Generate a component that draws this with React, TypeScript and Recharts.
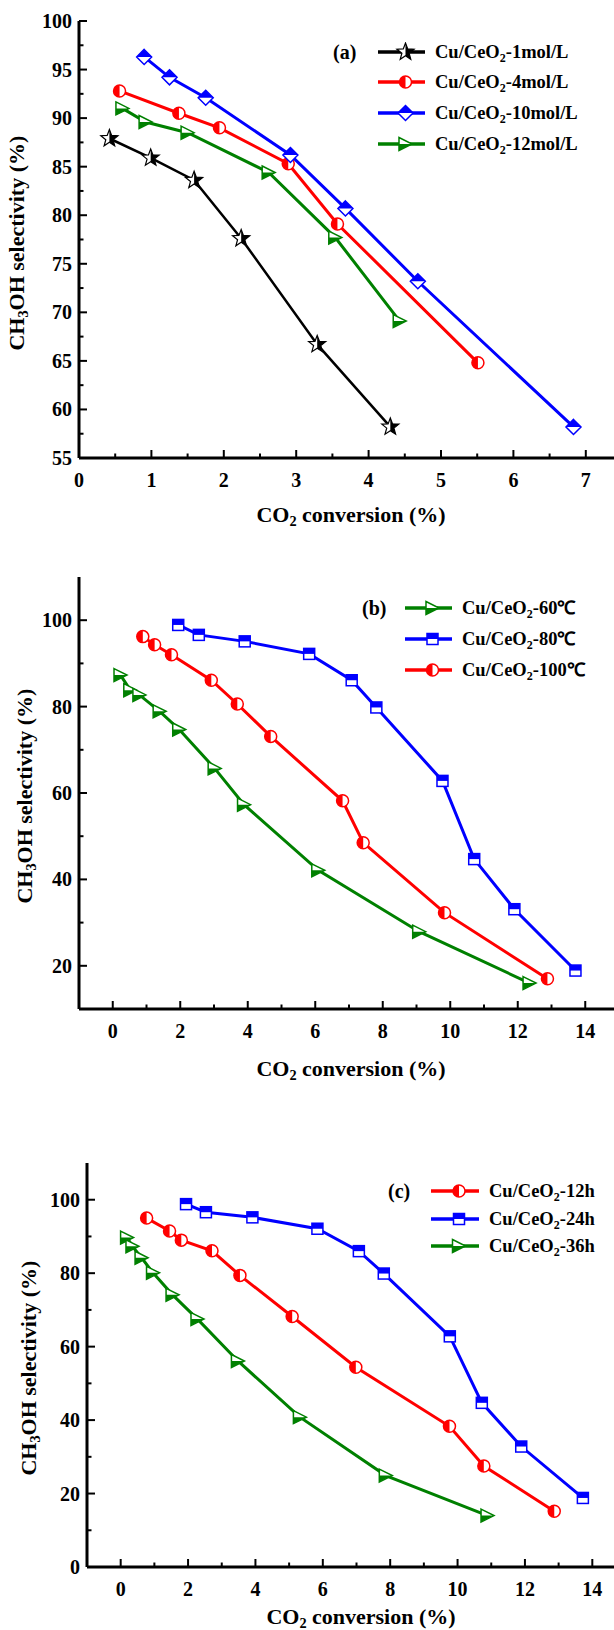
import React from "react";
import { LineChart, Line, XAxis, YAxis } from "recharts";

const FONT = '"Liberation Serif", "Times New Roman", serif';

type Shape = "star" | "circle" | "diamond" | "square" | "triangle";

// (a) precipitant concentration
const convA1 = [0.42, 0.99, 1.59, 2.24, 3.29, 4.3];
const selA1 = [87.9, 85.9, 83.6, 77.6, 66.7, 58.2];
const convA4 = [0.56, 1.38, 1.94, 2.89, 3.57, 5.51];
const selA4 = [92.8, 90.5, 89.0, 85.3, 79.1, 64.8];
const convA10 = [0.9, 1.25, 1.75, 2.92, 3.68, 4.68, 6.83];
const selA10 = [96.3, 94.2, 92.1, 86.2, 80.7, 73.2, 58.2];
const convA12 = [0.6, 0.92, 1.5, 2.62, 3.54, 4.43];
const selA12 = [91.0, 89.6, 88.5, 84.4, 77.7, 69.1];

// (b) temperature
const convB60 = [0.23, 0.52, 0.79, 1.39, 1.97, 3.02, 3.89, 6.09, 9.08, 12.35];
const selB60 = [87.3, 83.8, 82.7, 78.9, 74.7, 65.7, 57.3, 42.1, 27.9, 16.0];
const convB80 = [1.94, 2.55, 3.91, 5.82, 7.08, 7.81, 9.77, 10.71, 11.9, 13.71];
const selB80 = [98.9, 96.6, 95.1, 92.2, 86.1, 79.8, 62.8, 44.7, 33.1, 18.9];
const convB100 = [0.89, 1.24, 1.74, 2.92, 3.69, 4.68, 6.81, 7.42, 9.83, 12.88];
const selB100 = [96.2, 94.3, 92.0, 86.1, 80.6, 73.1, 58.2, 48.5, 32.3, 17.0];

// (c) aging time
const convC12 = [0.77, 1.45, 1.8, 2.71, 3.54, 5.09, 6.98, 9.76, 10.78, 12.87];
const selC12 = [95.0, 91.5, 89.0, 86.1, 79.4, 68.2, 54.4, 38.3, 27.5, 15.2];
const convC24 = [1.94, 2.53, 3.91, 5.84, 7.07, 7.81, 9.77, 10.72, 11.89, 13.72];
const selC24 = [98.8, 96.6, 95.2, 92.1, 86.0, 79.9, 62.8, 44.7, 32.8, 18.8];
const convC36 = [0.19, 0.35, 0.62, 0.96, 1.54, 2.28, 3.48, 5.32, 7.87, 10.89];
const selC36 = [89.7, 87.3, 84.2, 80.1, 74.1, 67.5, 56.1, 40.8, 24.9, 14.0];

// tick positions (all) and the ones that carry a label
const xTicksA = [0, 0.5, 1, 1.5, 2, 2.5, 3, 3.5, 4, 4.5, 5, 5.5, 6, 6.5, 7];
const xLabelsA = [0, 1, 2, 3, 4, 5, 6, 7];
const yTicksA = [55, 57.5, 60, 62.5, 65, 67.5, 70, 72.5, 75, 77.5, 80, 82.5, 85, 87.5, 90, 92.5, 95, 97.5, 100];
const yLabelsA = [55, 60, 65, 70, 75, 80, 85, 90, 95, 100];
const xTicksBC = [0, 1, 2, 3, 4, 5, 6, 7, 8, 9, 10, 11, 12, 13, 14];
const xLabelsBC = [0, 2, 4, 6, 8, 10, 12, 14];
const yTicksB = [10, 20, 30, 40, 50, 60, 70, 80, 90, 100];
const yLabelsB = [20, 40, 60, 80, 100];
const yTicksC = [0, 10, 20, 30, 40, 50, 60, 70, 80, 90, 100];
const yLabelsC = [0, 20, 40, 60, 80, 100];

interface Series {
  suffix: string;
  color: string;
  shape: Shape;
  conv: number[];
  sel: number[];
}

const seriesA: Series[] = [
  { suffix: "-1mol/L", color: "#000000", shape: "star", conv: convA1, sel: selA1 },
  { suffix: "-4mol/L", color: "#ff0000", shape: "circle", conv: convA4, sel: selA4 },
  { suffix: "-10mol/L", color: "#0000ff", shape: "diamond", conv: convA10, sel: selA10 },
  { suffix: "-12mol/L", color: "#008000", shape: "triangle", conv: convA12, sel: selA12 },
];
const seriesB: Series[] = [
  { suffix: "-60℃", color: "#008000", shape: "triangle", conv: convB60, sel: selB60 },
  { suffix: "-80℃", color: "#0000ff", shape: "square", conv: convB80, sel: selB80 },
  { suffix: "-100℃", color: "#ff0000", shape: "circle", conv: convB100, sel: selB100 },
];
const seriesC: Series[] = [
  { suffix: "-12h", color: "#ff0000", shape: "circle", conv: convC12, sel: selC12 },
  { suffix: "-24h", color: "#0000ff", shape: "square", conv: convC24, sel: selC24 },
  { suffix: "-36h", color: "#008000", shape: "triangle", conv: convC36, sel: selC36 },
];

// half-filled scatter symbols
function Marker({ shape, cx, cy, color }: { shape: Shape; cx: number; cy: number; color: string }) {
  const sw = 1.5;
  if (shape === "circle") {
    const r = 6;
    return (
      <g>
        <circle cx={cx} cy={cy} r={r} fill="#fff" stroke={color} strokeWidth={sw} />
        <path d={`M${cx},${cy - r}A${r},${r} 0 0 0 ${cx},${cy + r}Z`} fill={color} />
      </g>
    );
  }
  if (shape === "square") {
    const h = 5.5;
    return (
      <g>
        <rect x={cx - h} y={cy - h} width={2 * h} height={2 * h} fill="#fff" stroke={color} strokeWidth={sw} />
        <rect x={cx - h} y={cy - h} width={2 * h} height={h} fill={color} />
      </g>
    );
  }
  if (shape === "diamond") {
    const h = 7.5;
    return (
      <g>
        <polygon points={`${cx},${cy - h} ${cx + h},${cy} ${cx},${cy + h} ${cx - h},${cy}`} fill="#fff" stroke={color} strokeWidth={sw} />
        <polygon points={`${cx - h},${cy} ${cx},${cy - h} ${cx + h},${cy}`} fill={color} />
      </g>
    );
  }
  if (shape === "triangle") {
    const h = 6.5;
    return (
      <g>
        <polygon points={`${cx - h},${cy - h} ${cx + h},${cy} ${cx - h},${cy + h}`} fill="#fff" stroke={color} strokeWidth={sw} />
        <polygon points={`${cx - h},${cy} ${cx + h},${cy} ${cx - h},${cy + h}`} fill={color} />
      </g>
    );
  }
  // five-point star, right half filled
  const R = 9;
  const ri = 3.8;
  const pts: string[] = [];
  for (let k = 0; k < 10; k++) {
    const a = (k * Math.PI) / 5;
    const r = k % 2 === 0 ? R : ri;
    pts.push(`${cx + r * Math.sin(a)},${cy - r * Math.cos(a)}`);
  }
  return (
    <g>
      <polygon points={pts.join(" ")} fill="#fff" stroke={color} strokeWidth={1.2} />
      <polygon points={pts.slice(0, 6).join(" ")} fill={color} />
    </g>
  );
}

const subStyle = { fontSize: "0.65em", verticalAlign: "-0.3em" };

const CO2 = () => (
  <>
    CO<sub style={subStyle}>2</sub> conversion (%)
  </>
);

const CH3OH = () => (
  <>
    CH<sub style={subStyle}>3</sub>OH selectivity (%)
  </>
);

interface PanelProps {
  tag: string;
  series: Series[];
  plotTop: number;
  plotBottom: number;
  plotLeft: number;
  plotWidth: number;
  xDomain: [number, number];
  yDomain: [number, number];
  xTicks: number[];
  xLabels: number[];
  yTicks: number[];
  yLabels: number[];
  yTitleX: number;
  xTitleX: number;
  xTitleGap: number;
  legendTagX: number;
  legendLineX: number;
  legendTextX: number;
  legendRows: number[];
}

function Panel(p: PanelProps) {
  const marginTop = 20;
  const axisH = 70;
  const height = p.plotBottom - p.plotTop + marginTop + axisH;
  const width = p.plotLeft + p.plotWidth + 10;

  const xTick = (t: any) => {
    const v = t.payload.value;
    const major = p.xLabels.includes(v);
    return (
      <g>
        <line x1={t.x} x2={t.x} y1={t.y} y2={t.y - (major ? 8 : 4.5)} stroke="#000" strokeWidth={2} />
        {major && (
          <text x={t.x} y={t.y + 29} textAnchor="middle" fontFamily={FONT} fontWeight="bold" fontSize={20} fill="#000">
            {v}
          </text>
        )}
      </g>
    );
  };

  const yTick = (t: any) => {
    const v = t.payload.value;
    const major = p.yLabels.includes(v);
    return (
      <g>
        <line x1={t.x} x2={t.x + (major ? 8 : 4.5)} y1={t.y} y2={t.y} stroke="#000" strokeWidth={2} />
        {major && (
          <text x={t.x - 7} y={t.y + 7} textAnchor="end" fontFamily={FONT} fontWeight="bold" fontSize={20} fill="#000">
            {v}
          </text>
        )}
      </g>
    );
  };

  const axisLine = { stroke: "#000", strokeWidth: 3 };
  const midY = (p.plotTop + p.plotBottom) / 2;
  const legendLineW = p.legendTextX - p.legendLineX - 10;

  return (
    <>
      <div style={{ position: "absolute", left: 0, top: p.plotTop - marginTop }}>
        <LineChart width={width} height={height} margin={{ top: marginTop, right: 10, bottom: 0, left: 0 }}>
          <XAxis
            xAxisId="b"
            type="number"
            dataKey="x"
            domain={p.xDomain}
            ticks={p.xTicks}
            interval={0}
            allowDataOverflow
            height={axisH}
            axisLine={axisLine}
            tickLine={false}
            tickSize={0}
            tickMargin={0}
            tick={xTick}
          />
          <XAxis xAxisId="t" orientation="top" type="number" dataKey="x" domain={p.xDomain} height={0} tick={false} tickLine={false} axisLine={axisLine} />
          <YAxis
            yAxisId="l"
            type="number"
            domain={p.yDomain}
            ticks={p.yTicks}
            interval={0}
            allowDataOverflow
            width={p.plotLeft}
            axisLine={axisLine}
            tickLine={false}
            tickSize={0}
            tickMargin={0}
            tick={yTick}
          />
          <YAxis yAxisId="r" orientation="right" type="number" domain={p.yDomain} width={0} tick={false} tickLine={false} axisLine={axisLine} />
          {p.series.map((s) => (
            <Line
              key={s.suffix}
              xAxisId="b"
              yAxisId="l"
              data={s.conv.map((c, i) => ({ x: c, y: s.sel[i] }))}
              dataKey="y"
              type="linear"
              stroke={s.color}
              strokeWidth={s.shape === "star" ? 2.5 : 3}
              isAnimationActive={false}
              dot={(d: any) => <Marker key={d.index} shape={s.shape} cx={d.cx} cy={d.cy} color={s.color} />}
              activeDot={false}
            />
          ))}
        </LineChart>
      </div>

      {/* axis titles */}
      <div
        style={{
          position: "absolute",
          left: p.xTitleX - 150,
          top: p.plotBottom + p.xTitleGap - 13,
          width: 300,
          textAlign: "center",
          fontFamily: FONT,
          fontWeight: "bold",
          fontSize: 22,
          lineHeight: "26px",
          whiteSpace: "nowrap",
        }}
      >
        <CO2 />
      </div>
      <div
        style={{
          position: "absolute",
          left: p.yTitleX - 160,
          top: midY - 13,
          width: 320,
          textAlign: "center",
          fontFamily: FONT,
          fontWeight: "bold",
          fontSize: 22,
          lineHeight: "26px",
          whiteSpace: "nowrap",
          transform: "rotate(-90deg)",
        }}
      >
        <CH3OH />
      </div>

      {/* legend */}
      <div
        style={{
          position: "absolute",
          left: p.legendTagX,
          top: p.legendRows[0] - 12,
          fontFamily: FONT,
          fontWeight: "bold",
          fontSize: 20,
          lineHeight: "24px",
        }}
      >
        {p.tag}
      </div>
      {p.series.map((s, i) => (
        <React.Fragment key={s.suffix}>
          <svg style={{ position: "absolute", left: p.legendLineX, top: p.legendRows[i] - 10 }} width={legendLineW} height={20}>
            <line x1={0} x2={legendLineW} y1={10} y2={10} stroke={s.color} strokeWidth={3.5} />
            <Marker shape={s.shape} cx={legendLineW / 2 + 4} cy={10} color={s.color} />
          </svg>
          <div
            style={{
              position: "absolute",
              left: p.legendTextX,
              top: p.legendRows[i] - 12,
              fontFamily: FONT,
              fontWeight: "bold",
              fontSize: 18.5,
              lineHeight: "24px",
              whiteSpace: "nowrap",
            }}
          >
            Cu/CeO<sub style={subStyle}>2</sub>
            {s.suffix}
          </div>
        </React.Fragment>
      ))}
    </>
  );
}

export default function App() {
  return (
    <div style={{ position: "absolute", left: 0, top: 0, width: 614, height: 1630, overflow: "hidden", background: "#fff" }}>
      <Panel
        tag="(a)"
        series={seriesA}
        plotTop={21}
        plotBottom={458}
        plotLeft={79}
        plotWidth={543}
        xDomain={[0, 7.5]}
        yDomain={[55, 100]}
        xTicks={xTicksA}
        xLabels={xLabelsA}
        yTicks={yTicksA}
        yLabels={yLabelsA}
        yTitleX={20}
        xTitleX={351}
        xTitleGap={57}
        legendTagX={333}
        legendLineX={378}
        legendTextX={435}
        legendRows={[52, 82, 113, 144]}
      />
      <Panel
        tag="(b)"
        series={seriesB}
        plotTop={577}
        plotBottom={1009}
        plotLeft={79}
        plotWidth={540}
        xDomain={[-1, 15]}
        yDomain={[10, 110]}
        xTicks={xTicksBC}
        xLabels={xLabelsBC}
        yTicks={yTicksB}
        yLabels={yLabelsB}
        yTitleX={28}
        xTitleX={351}
        xTitleGap={60}
        legendTagX={362}
        legendLineX={405}
        legendTextX={462}
        legendRows={[608, 639, 670]}
      />
      <Panel
        tag="(c)"
        series={seriesC}
        plotTop={1163}
        plotBottom={1567}
        plotLeft={87}
        plotWidth={539}
        xDomain={[-1, 15]}
        yDomain={[0, 110]}
        xTicks={xTicksBC}
        xLabels={xLabelsBC}
        yTicks={yTicksC}
        yLabels={yLabelsC}
        yTitleX={32}
        xTitleX={361}
        xTitleGap={50}
        legendTagX={388}
        legendLineX={431}
        legendTextX={489}
        legendRows={[1191, 1219, 1246]}
      />
    </div>
  );
}
